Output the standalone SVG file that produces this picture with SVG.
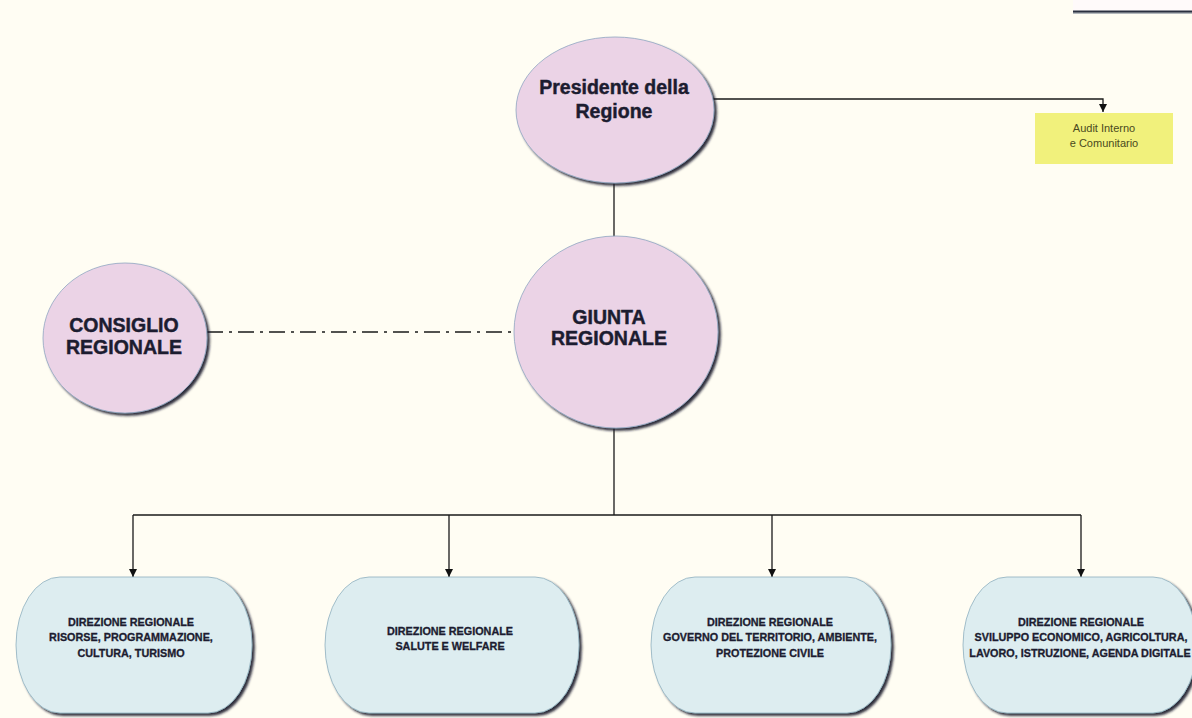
<svg xmlns="http://www.w3.org/2000/svg" width="1192" height="718" viewBox="0 0 1192 718">
  <defs>
    <filter id="shadow" x="-10%" y="-10%" width="125%" height="125%">
      <feDropShadow dx="2.5" dy="2.5" stdDeviation="0.9" flood-color="#15182a" flood-opacity="0.9"/>
    </filter>
    <marker id="arrow" viewBox="0 0 10 10" refX="10" refY="5" markerWidth="8" markerHeight="8" markerUnits="userSpaceOnUse" orient="auto">
      <path d="M0,0 L10,5 L0,10 Z" fill="#111"/>
    </marker>
    <style>
      .bg { fill: #fffdf3; }
      .oval { fill: #ebd3e6; stroke: #8fa6c2; stroke-width: 0.8; filter: url(#shadow); }
      .dir { fill: #ddedf0; stroke: #8fb0bf; stroke-width: 0.8; filter: url(#shadow); }
      .big { font-family: "Liberation Sans", Arial, sans-serif; font-weight: bold; fill: #1c1c30; stroke: #1c1c30; stroke-width: 0.45; text-anchor: middle; }
      .small { font-family: "Liberation Sans", Arial, sans-serif; font-weight: bold; font-size: 10.8px; fill: #1c1c30; stroke: #1c1c30; stroke-width: 0.3; text-anchor: middle; }
      .audit { font-family: "Liberation Sans", Arial, sans-serif; font-size: 11px; fill: #4a4a20; text-anchor: middle; }
      .line { fill: none; stroke: #1a1a1a; stroke-width: 1.3; }
      .dashdot { fill: none; stroke: #1a1a1a; stroke-width: 1.3; stroke-dasharray: 16 6 3 6; }
    </style>
  </defs>

  <rect class="bg" x="0" y="0" width="1192" height="718"/>

  <!-- top-right partial element -->
  <g id="top-right">
    <rect x="1073" y="-10" width="125" height="21" fill="#fffafa"/>
    <line x1="1073" y1="13" x2="1192" y2="13" stroke="#9aa0aa" stroke-width="1.5"/>
    <line x1="1073" y1="11.5" x2="1192" y2="11.5" stroke="#2a3040" stroke-width="2"/>
  </g>

  <g id="connectors">
    <!-- Presidente to Audit -->
    <polyline class="line" points="713,99 1103,99 1103,112" marker-end="url(#arrow)"/>
    <!-- Presidente to Giunta -->
    <line class="line" x1="614" y1="183" x2="614" y2="237"/>
    <!-- Consiglio to Giunta -->
    <line class="dashdot" x1="207" y1="332" x2="514" y2="332"/>
    <!-- Giunta down -->
    <line class="line" x1="614" y1="428" x2="614" y2="515"/>
    <line class="line" x1="133" y1="515" x2="1081" y2="515" stroke="#3a2626"/>
    <line class="line" x1="133" y1="515" x2="133" y2="577" marker-end="url(#arrow)"/>
    <line class="line" x1="449" y1="515" x2="449" y2="577" marker-end="url(#arrow)"/>
    <line class="line" x1="772" y1="515" x2="772" y2="577" marker-end="url(#arrow)"/>
    <line class="line" x1="1081" y1="515" x2="1081" y2="577" marker-end="url(#arrow)"/>
  </g>

  <g id="presidente">
    <ellipse class="oval" cx="615" cy="110" rx="99" ry="73"/>
    <text class="big" x="614" y="94" font-size="19.5">Presidente della</text>
    <text class="big" x="614" y="118" font-size="19.5">Regione</text>
  </g>

  <g id="audit">
    <rect x="1035" y="113" width="138" height="51" fill="#f1f17c"/>
    <text class="audit" x="1104" y="132">Audit Interno</text>
    <text class="audit" x="1104" y="147">e Comunitario</text>
  </g>

  <g id="giunta">
    <ellipse class="oval" cx="616" cy="332" rx="102" ry="96"/>
    <text class="big" x="609" y="324" font-size="19.5">GIUNTA</text>
    <text class="big" x="609" y="345" font-size="19.5">REGIONALE</text>
  </g>

  <g id="consiglio">
    <ellipse class="oval" cx="125" cy="338" rx="82" ry="75"/>
    <text class="big" x="124" y="332" font-size="19.5">CONSIGLIO</text>
    <text class="big" x="124" y="354" font-size="19.5">REGIONALE</text>
  </g>

  <g id="dir-risorse">
    <rect class="dir" x="16" y="577" width="236" height="136" rx="44" ry="68"/>
    <text class="small" x="131" y="626">DIREZIONE REGIONALE</text>
    <text class="small" x="131" y="641">RISORSE, PROGRAMMAZIONE,</text>
    <text class="small" x="131" y="656.5">CULTURA, TURISMO</text>
  </g>

  <g id="dir-salute">
    <rect class="dir" x="325" y="577" width="254" height="136" rx="44" ry="68"/>
    <text class="small" x="450" y="635">DIREZIONE REGIONALE</text>
    <text class="small" x="450" y="650">SALUTE E WELFARE</text>
  </g>

  <g id="dir-territorio">
    <rect class="dir" x="651" y="577" width="240" height="136" rx="44" ry="68"/>
    <text class="small" x="770" y="626">DIREZIONE REGIONALE</text>
    <text class="small" x="770" y="641">GOVERNO DEL TERRITORIO, AMBIENTE,</text>
    <text class="small" x="770" y="656.5">PROTEZIONE CIVILE</text>
  </g>

  <g id="dir-sviluppo">
    <rect class="dir" x="963" y="577" width="234" height="136" rx="44" ry="68"/>
    <text class="small" x="1081" y="626">DIREZIONE REGIONALE</text>
    <text class="small" x="1081" y="641">SVILUPPO ECONOMICO, AGRICOLTURA,</text>
    <text class="small" x="1080" y="656.5">LAVORO, ISTRUZIONE, AGENDA DIGITALE</text>
  </g>
</svg>
